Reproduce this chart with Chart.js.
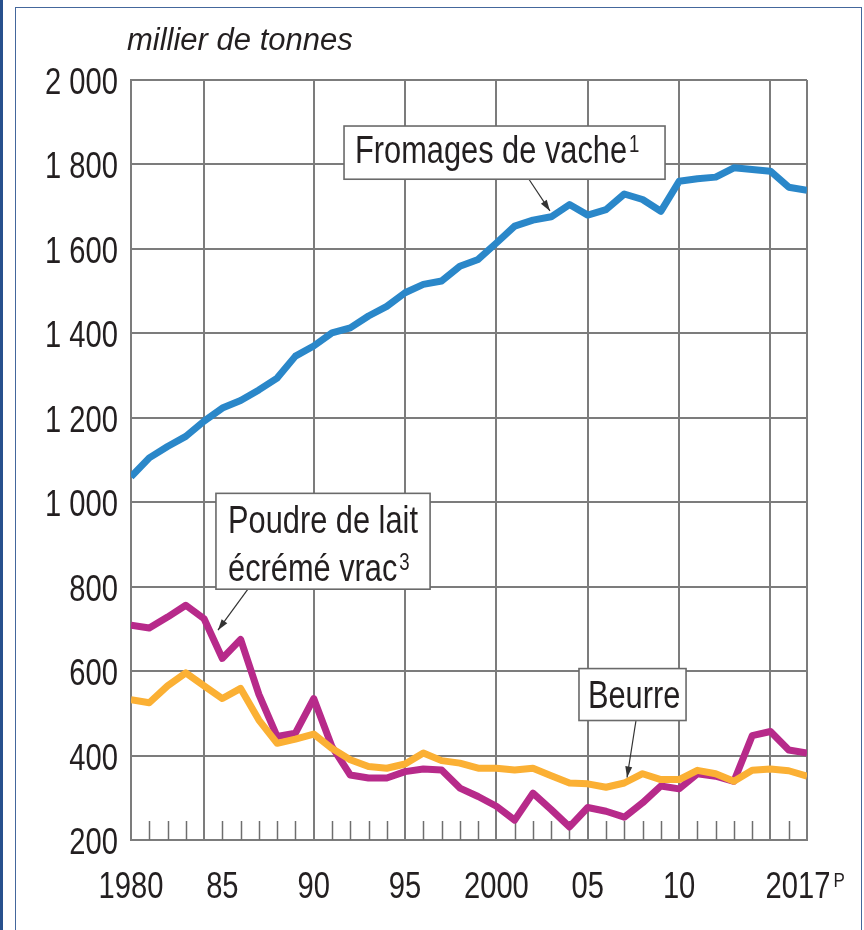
<!DOCTYPE html>
<html lang="fr">
<head>
<meta charset="utf-8">
<script src="https://cdn.jsdelivr.net/npm/chart.js@4/dist/chart.umd.min.js"></script>
<style>
body{margin:0;background:#fff;}
#wrap{position:relative;width:864px;height:930px;overflow:hidden;}
#bar{position:absolute;left:0;top:0;width:3px;height:930px;background:#27508d;}
#frame{position:absolute;left:15px;top:7px;width:845px;height:940px;border:1.5px solid #44679c;border-bottom:none;}
canvas{position:absolute;left:0;top:0;}
</style>
</head>
<body>
<div id="wrap">
  <div id="bar"></div>
  <div id="frame"></div>
  <canvas id="myChart" width="864" height="930"></canvas>
</div>
<script>
// data
const years = [1980,1981,1982,1983,1984,1985,1986,1987,1988,1989,1990,1991,1992,1993,1994,1995,1996,1997,1998,1999,
               2000,2001,2002,2003,2004,2005,2006,2007,2008,2009,2010,2011,2012,2013,2014,2015,2016,2017];
const fromages = [1060,1105,1132,1156,1192,1223,1241,1266,1294,1346,1370,1401,1413,1441,1464,1496,1516,1524,1559,1575,
                  1614,1654,1668,1676,1705,1680,1693,1730,1717,1689,1760,1766,1770,1792,1788,1784,1746,1739];
const poudre = [709,702,728,756,724,630,675,545,445,453,535,421,354,347,347,362,368,366,323,303,
                280,247,311,272,231,277,268,254,288,328,321,357,351,339,447,457,413,406];
const beurre = [532,525,565,596,565,535,559,484,429,439,451,417,390,374,370,380,406,388,382,370,
                370,366,370,352,335,333,325,335,357,343,343,365,357,339,365,368,364,351];
const yTicks = [200,400,600,800,1000,1200,1400,1600,1800,2000];
const xLabelYears = [1980,1985,1990,1995,2000,2005,2010,2017];
const xLabelText = ['1980','85','90','95','2000','05','10','2017'];
const gridYears = [1984,1990,1995,2000,2005,2010,2015,2017];

const FONT = "'Liberation Sans', Arial, sans-serif";
const TXT = '#231f20';
const NARROW = 0.81;

// annotation boxes (in data units)
const notes = [
  {x1:1991.66, x2:2009.23, y1:1891, y2:1765,
   lines:[{t:'Fromages de vache', sup:'1', x:1992.26, y:1803}],
   arrow:[2001.78,1765,2002.93,1690]},
  {x1:1984.65, x2:1996.37, y1:1021, y2:794,
   lines:[{t:'Poudre de lait', x:1985.31, y:926},{t:'écrémé vrac', sup:'3', x:1985.31, y:813}],
   arrow:[1986.4,794,1984.76,697]},
  {x1:2004.52, x2:2010.38, y1:606, y2:483,
   lines:[{t:'Beurre', x:2005.01, y:512}],
   arrow:[2007.64,483,2007.15,348]}
];

// condensed text helper, returns drawn width
function narrowText(ctx, text, x, y, size, align, style) {
  ctx.save();
  ctx.font = `${style || ''} ${size}px ${FONT}`;
  ctx.textBaseline = 'alphabetic';
  ctx.textAlign = align || 'left';
  ctx.translate(x, y);
  ctx.scale(NARROW, 1);
  ctx.fillText(text, 0, 0);
  const w = ctx.measureText(text).width * NARROW;
  ctx.restore();
  return w;
}

const decor = {
  id:'decor',
  beforeDatasetsDraw(chart){
    const {ctx, scales:{x,y}} = chart;
    ctx.save();
    ctx.strokeStyle = '#6e6e6e';
    ctx.lineWidth = 1.5;
    const b = y.getPixelForValue(200);
    years.forEach(yr => {
      if (gridYears.includes(yr) || yr === 1980) return;
      const px = Math.round(x.getPixelForValue(yr)) + 0.5;
      ctx.beginPath();
      ctx.moveTo(px, b);
      ctx.lineTo(px, b - 19);
      ctx.stroke();
    });
    ctx.restore();
  },
  afterDraw(chart){
    const {ctx, scales:{x,y}} = chart;
    ctx.save();
    ctx.fillStyle = TXT;

    // unit title
    ctx.font = `italic 31px ${FONT}`;
    ctx.textBaseline = 'alphabetic';
    ctx.fillText('millier de tonnes', 127, 50);

    // y tick labels
    yTicks.forEach(v => {
      const lbl = v >= 1000 ? Math.floor(v/1000) + ' ' + String(v % 1000).padStart(3, '0') : String(v);
      narrowText(ctx, lbl, x.left - 13, y.getPixelForValue(v) + 14, 36, 'right');
    });

    // x tick labels
    const base = y.getPixelForValue(200) + 58;
    xLabelYears.forEach((yr, i) => {
      const px = x.getPixelForValue(yr);
      if (yr === 2017) {
        const w = narrowText(ctx, xLabelText[i], px - 9, base, 36, 'center');
        narrowText(ctx, 'P', px - 9 + w/2 + 3, base - 11, 21, 'left');
      } else {
        narrowText(ctx, xLabelText[i], px, base, 36, 'center');
      }
    });

    notes.forEach(n => {
      // arrow
      const ax = x.getPixelForValue(n.arrow[0]), ay = y.getPixelForValue(n.arrow[1]);
      const bx = x.getPixelForValue(n.arrow[2]), by = y.getPixelForValue(n.arrow[3]);
      ctx.strokeStyle = '#333';
      ctx.lineWidth = 1.2;
      ctx.beginPath(); ctx.moveTo(ax, ay); ctx.lineTo(bx, by); ctx.stroke();
      const ang = Math.atan2(by - ay, bx - ax);
      ctx.fillStyle = '#333';
      ctx.beginPath();
      ctx.moveTo(bx, by);
      ctx.lineTo(bx - 11*Math.cos(ang) + 3.5*Math.sin(ang), by - 11*Math.sin(ang) - 3.5*Math.cos(ang));
      ctx.lineTo(bx - 11*Math.cos(ang) - 3.5*Math.sin(ang), by - 11*Math.sin(ang) + 3.5*Math.cos(ang));
      ctx.closePath(); ctx.fill();

      // box
      const l = x.getPixelForValue(n.x1), r = x.getPixelForValue(n.x2);
      const t = y.getPixelForValue(n.y1), bt = y.getPixelForValue(n.y2);
      ctx.fillStyle = '#fff';
      ctx.fillRect(l, t, r - l, bt - t);
      ctx.strokeStyle = '#6a6a6a';
      ctx.lineWidth = 1.6;
      ctx.strokeRect(l, t, r - l, bt - t);

      // text
      ctx.fillStyle = TXT;
      n.lines.forEach(ln => {
        const tx = x.getPixelForValue(ln.x), ty = y.getPixelForValue(ln.y);
        const w = narrowText(ctx, ln.t, tx, ty, 38, 'left');
        if (ln.sup) narrowText(ctx, ln.sup, tx + w + 2, ty - 11, 23, 'left');
      });
    });
    ctx.restore();
  }
};

const toPts = vals => years.map((yr, i) => ({x: yr, y: vals[i]}));

const ctx = document.getElementById('myChart').getContext('2d');
new Chart(ctx, {
  type: 'line',
  data: {
    datasets: [
      {label:'Beurre', data: toPts(beurre), borderColor:'#fbb034', order:1},
      {label:'Poudre de lait écrémé vrac', data: toPts(poudre), borderColor:'#b72a8a', order:2},
      {label:'Fromages de vache', data: toPts(fromages), borderColor:'#2a87c9', order:3}
    ]
  },
  options: {
    responsive: false,
    animation: false,
    events: [],
    layout: {padding: {top: 80, right: 57, left: 0, bottom: 0}},
    elements: {
      line: {borderWidth: 7, tension: 0, borderJoinStyle: 'round', borderCapStyle: 'butt', fill: false},
      point: {radius: 0}
    },
    plugins: {legend: {display: false}, tooltip: {enabled: false}},
    scales: {
      x: {
        type: 'linear', min: 1980, max: 2017,
        afterFit: s => { s.height = 90; },
        afterBuildTicks: s => { s.ticks = years.map(v => ({value: v})); },
        grid: {
          drawTicks: false,
          lineWidth: 2,
          color: c => (c.tick && gridYears.includes(c.tick.value)) ? '#7c7c7c' : 'rgba(0,0,0,0)'
        },
        border: {display: true, color: '#7c7c7c', width: 2},
        ticks: {display: false}
      },
      y: {
        min: 200, max: 2000,
        afterFit: s => { s.width = 131; },
        afterBuildTicks: s => { s.ticks = yTicks.map(v => ({value: v})); },
        grid: {drawTicks: false, lineWidth: 2, color: '#7c7c7c'},
        border: {display: true, color: '#7c7c7c', width: 2},
        ticks: {display: false}
      }
    }
  },
  plugins: [decor]
});
</script>
</body>
</html>
